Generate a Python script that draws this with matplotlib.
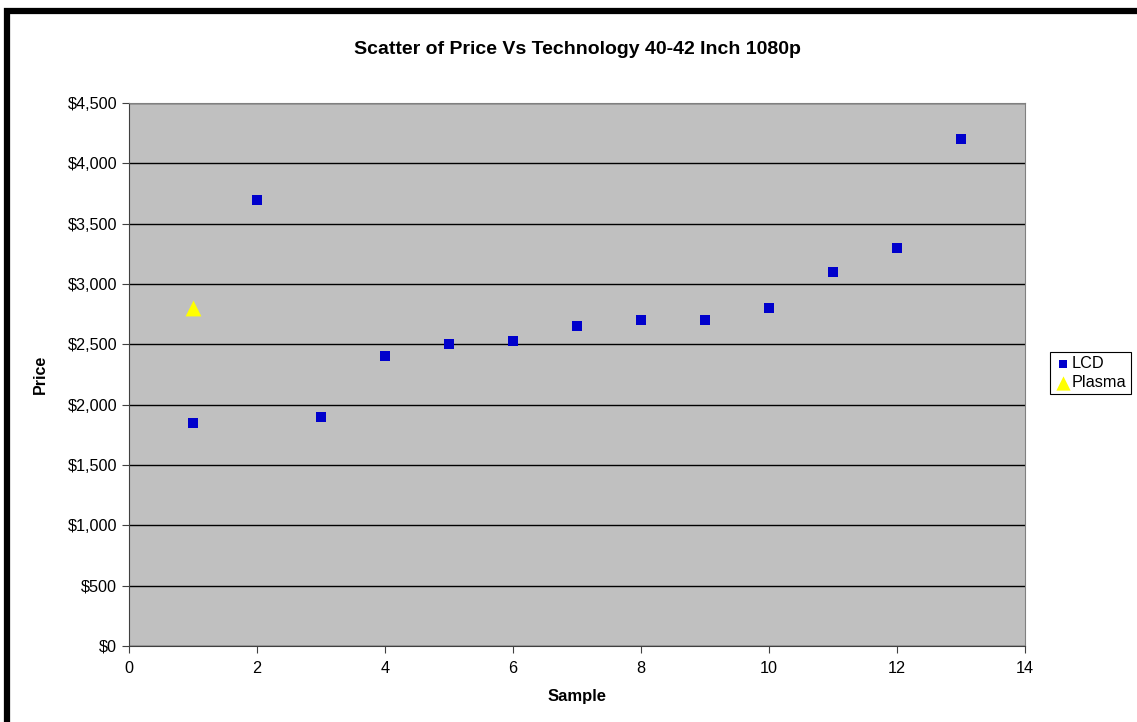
import matplotlib.pyplot as plt
from matplotlib.patches import Rectangle
from matplotlib.ticker import FuncFormatter, MultipleLocator

plt.rcParams["font.family"] = ["Liberation Sans", "DejaVu Sans"]

lcd_sample = [1, 2, 3, 4, 5, 6, 7, 8, 9, 10, 11, 12, 13]
lcd_price = [1850, 3700, 1900, 2400, 2500, 2530, 2650, 2700, 2700, 2800, 3100, 3300, 4200]
plasma_sample = [1]
plasma_price = [2800]

fig = plt.figure(figsize=(11.37, 7.22), dpi=100)
ax = fig.add_axes([0.1135, 0.1053, 0.788, 0.752])
ax.set_facecolor("#c0c0c0")

# black frame around the chart (runs off the right/bottom edge)
fig.patches.append(Rectangle((0.0062, -0.05), 1.2, 1.035, transform=fig.transFigure,
                             fill=False, edgecolor="black", linewidth=4.5, zorder=10))

ax.scatter(lcd_sample, lcd_price, marker="s", s=42, color="#0000cc", linewidths=0,
           label="LCD", zorder=3)
ax.scatter(plasma_sample, plasma_price, marker="^", s=130, color="#ffff00", linewidths=0,
           label="Plasma", zorder=3)

ax.set_xlim(0, 14)
ax.set_ylim(0, 4500)
ax.xaxis.set_major_locator(MultipleLocator(2))
ax.yaxis.set_major_locator(MultipleLocator(500))
ax.yaxis.set_major_formatter(FuncFormatter(lambda v, p: "${:,.0f}".format(v)))
ax.grid(axis="y", color="black", linewidth=1)
ax.set_axisbelow(True)

for s in ["top", "right"]:
    ax.spines[s].set_color("#808080")
for s in ["left", "bottom"]:
    ax.spines[s].set_color("#404040")
ax.tick_params(labelsize=11.7, length=5, color="#404040")
ax.tick_params(axis="y", pad=3.5)
ax.tick_params(axis="x", pad=6)

ax.set_title("Scatter of Price Vs Technology 40-42 Inch 1080p", fontsize=14,
             fontweight="bold", pad=35)
ax.set_xlabel("Sample", fontsize=12, fontweight="bold", labelpad=9)
ax.set_ylabel("Price", fontsize=11.5, fontweight="bold", labelpad=14)

leg = fig.legend(loc="center left", bbox_to_anchor=(0.9165, 0.483), fontsize=11.7,
                 frameon=True, fancybox=False, edgecolor="black", framealpha=1,
                 handletextpad=0.0, borderpad=0.25, labelspacing=0.25, handlelength=1.1,
                 markerscale=0.9)
leg.get_frame().set_linewidth(0.8)

fig.savefig("out.png", dpi=100)
